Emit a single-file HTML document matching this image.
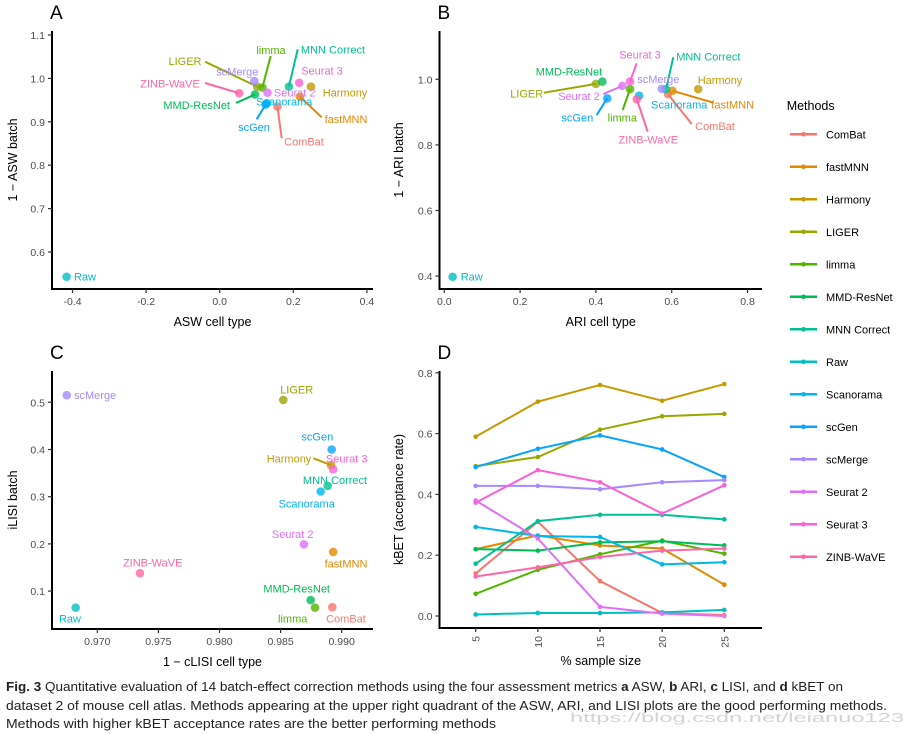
<!DOCTYPE html>
<html><head><meta charset="utf-8"><style>
html,body{margin:0;padding:0;background:#fff;}
svg{display:block;font-family:"Liberation Sans",sans-serif;}
</style></head><body>
<svg id="fig" width="907" height="734" viewBox="0 0 907 734" xmlns="http://www.w3.org/2000/svg"></svg>
<script>
const methods=["ComBat","fastMNN","Harmony","LIGER","limma","MMD-ResNet","MNN Correct","Raw","Scanorama","scGen","scMerge","Seurat 2","Seurat 3","ZINB-WaVE"];
const colors=["#F8766D","#E38900","#C49A00","#99A800","#53B400","#00BC56","#00C094","#00BFC4","#00B6EB","#06A4FF","#A58AFF","#DF70F8","#FB61D7","#FF66A8"];
// Panel A: ASW
const aswCell=[0.157,0.218,0.248,0.102,0.116,0.096,0.188,-0.416,0.128,0.125,0.094,0.130,0.216,0.053];
const aswBatch=[0.935,0.958,0.981,0.981,0.979,0.963,0.981,0.543,0.943,0.940,0.994,0.967,0.990,0.966];
const aTicksX=[-0.4,-0.2,0.0,0.2,0.4];
const aTickLabX=["-0.4","-0.2","0.0","0.2","0.4"];
const aTicksY=[0.6,0.7,0.8,0.9,1.0,1.1];
const aTickLabY=["0.6","0.7","0.8","0.9","1.0","1.1"];
// Panel B: ARI
const ariCell=[0.590,0.602,0.670,0.400,0.490,0.417,0.585,0.022,0.514,0.430,0.574,0.470,0.490,0.508];
const ariBatch=[0.955,0.965,0.970,0.986,0.970,0.993,0.970,0.398,0.950,0.942,0.971,0.980,0.993,0.939];
const bTicksX=[0.0,0.2,0.4,0.6,0.8];
const bTickLabX=["0.0","0.2","0.4","0.6","0.8"];
const bTicksY=[0.4,0.6,0.8,1.0];
const bTickLabY=["0.4","0.6","0.8","1.0"];
// Panel C: LISI
const lisiCell=[0.98923,0.9893,0.98913,0.98522,0.98782,0.98746,0.98885,0.96823,0.98828,0.98918,0.9675,0.98691,0.9893,0.97349];
const lisiBatch=[0.066,0.183,0.367,0.505,0.065,0.081,0.323,0.065,0.311,0.400,0.515,0.199,0.358,0.138];
const cTicksX=[0.970,0.975,0.980,0.985,0.990];
const cTickLabX=["0.970","0.975","0.980","0.985","0.990"];
const cTicksY=[0.1,0.2,0.3,0.4,0.5];
const cTickLabY=["0.1","0.2","0.3","0.4","0.5"];
// Panel D: kBET
const sampleSizes=[5,10,15,20,25];
const kbet=[
[0.14,0.31,0.115,0.01,0.003],
[0.22,0.265,0.232,0.222,0.103],
[0.59,0.705,0.76,0.708,0.763],
[0.493,0.523,0.613,0.657,0.665],
[0.073,0.152,0.203,0.248,0.205],
[0.22,0.215,0.242,0.246,0.232],
[0.172,0.312,0.333,0.333,0.318],
[0.005,0.01,0.01,0.012,0.02],
[0.293,0.263,0.26,0.17,0.177],
[0.49,0.55,0.594,0.548,0.457],
[0.428,0.428,0.417,0.44,0.447],
[0.38,0.255,0.03,0.008,0.0],
[0.373,0.48,0.44,0.337,0.43],
[0.13,0.16,0.194,0.215,0.222]];
const dTicksY=[0.0,0.2,0.4,0.6,0.8];
const dTickLabY=["0.0","0.2","0.4","0.6","0.8"];

const svg=document.getElementById('fig');
const NS="http://www.w3.org/2000/svg";
function mk(tag,attrs,parent){const e=document.createElementNS(NS,tag);for(const k in attrs)e.setAttribute(k,attrs[k]);(parent||svg).appendChild(e);return e;}
function txt(s,attrs,parent){const e=mk('text',attrs,parent);e.textContent=s;return e;}

function axes(g,p){
  // p: left,bottom,right,top,sx,sy,ticksX,labX,ticksY,labY,xtitle,ytitle,letter,rotX
  mk('line',{x1:p.left,y1:p.top,x2:p.left,y2:p.bottom+1,stroke:'#000','stroke-width':2},g);
  mk('line',{x1:p.left-1,y1:p.bottom,x2:p.right,y2:p.bottom,stroke:'#000','stroke-width':2},g);
  p.ticksX.forEach((v,i)=>{const x=p.sx(v);
    mk('line',{x1:x,y1:p.bottom,x2:x,y2:p.bottom+4,stroke:'#333','stroke-width':1.2},g);
    let t;
    if(p.rotX){t=txt(p.labX[i],{x:x+4,y:p.bottom+8,'font-size':10.5,fill:'#4d4d4d','text-anchor':'end',transform:`rotate(-90 ${x+4} ${p.bottom+8})`},g);}
    else t=txt(p.labX[i],{x:x,y:p.bottom+16,'font-size':10.5,fill:'#4d4d4d','text-anchor':'middle'},g);
    });
  p.ticksY.forEach((v,i)=>{const y=p.sy(v);
    mk('line',{x1:p.left-4,y1:y,x2:p.left,y2:y,stroke:'#333','stroke-width':1.2},g);
    const t=txt(p.labY[i],{x:p.left-7,y:y+4,'font-size':10.5,fill:'#4d4d4d','text-anchor':'end'},g);
    });
  const xt=txt(p.xtitle,{x:(p.left+p.right)/2,y:p.bottom+37,'font-size':12.5,fill:'#000','text-anchor':'middle'},g);
  
  const yc=(p.top+p.bottom)/2;
  const yt=txt(p.ytitle,{x:p.ytx,y:yc,'font-size':12.5,fill:'#000','text-anchor':'middle',transform:`rotate(-90 ${p.ytx} ${yc})`},g);
  
  const L=txt(p.letter,{x:p.left-2,y:p.top-12,'font-size':19,fill:'#000'},g);
  
}

function scatter(g,xs,ys,sx,sy,labels){
  methods.forEach((m,i)=>{
    const px=sx(xs[i]),py=sy(ys[i]);
    const lb=labels[m];
    if(lb&&lb.lx!==undefined){const l=mk('line',{x1:lb.lx,y1:lb.ly,x2:px,y2:py,stroke:colors[i],'stroke-width':2},g);
      }
    const c=mk('circle',{cx:px,cy:py,r:4.3,fill:colors[i],'fill-opacity':0.8},g);
    
    
  });
  methods.forEach((m,i)=>{
    const lb=labels[m];if(!lb)return;
    const t=txt(m,{x:lb.x,y:lb.y+4,'font-size':11,fill:colors[i],'text-anchor':lb.a||'middle'},g);
    
  });
}

// Panel A
const gA=mk('g',{});
const sxA=v=>219.7+v*368, syA=v=>35+(1.1-v)*434;
axes(gA,{left:52,bottom:289,right:373,top:31,sx:sxA,sy:syA,ticksX:aTicksX,labX:aTickLabX,ticksY:aTicksY,labY:aTickLabY,xtitle:'ASW cell type',ytitle:'1 − ASW batch',letter:'A',ytx:17});
scatter(gA,aswCell,aswBatch,sxA,syA,{
 "LIGER":{x:185,y:61,lx:205,ly:61.7},"limma":{x:271,y:50,lx:270.7,ly:56},"MNN Correct":{x:333,y:49.3,lx:297.7,ly:49.3},
 "scMerge":{x:237.3,y:71.7},"Seurat 3":{x:322,y:70.7},"ZINB-WaVE":{x:170,y:83.3,lx:205,ly:83},"Seurat 2":{x:294.7,y:92.7},
 "Harmony":{x:345,y:92.7},"MMD-ResNet":{x:196.7,y:105,lx:236,ly:103},"Scanorama":{x:284.3,y:101.7},"scGen":{x:254,y:127,lx:256.7,ly:119.3},
 "fastMNN":{x:346,y:119,lx:321.7,ly:117.3},"ComBat":{x:304,y:141.3,lx:281.7,ly:138.3},"Raw":{x:74,y:276.7,a:'start'}});

// Panel B
const gB=mk('g',{});
const sxB=v=>444.3+v*379, syB=v=>79.3+(1-v)*328;
axes(gB,{left:439.5,bottom:289,right:762,top:31,sx:sxB,sy:syB,ticksX:bTicksX,labX:bTickLabX,ticksY:bTicksY,labY:bTickLabY,xtitle:'ARI cell type',ytitle:'1 − ARI batch',letter:'B',ytx:403});
scatter(gB,ariCell,ariBatch,sxB,syB,{
 "Seurat 3":{x:640,y:54.3,lx:636.7,ly:63.3},"MNN Correct":{x:708.3,y:56.7,lx:673.3,ly:57.3},"MMD-ResNet":{x:569,y:71.7},
 "scMerge":{x:658.3,y:79},"Harmony":{x:720,y:80},"LIGER":{x:526.7,y:93.3,lx:544,ly:92.7},"Seurat 2":{x:579,y:96,lx:603.3,ly:94},
 "Scanorama":{x:679.3,y:104.3},"fastMNN":{x:732.7,y:104.3,lx:713.3,ly:102.7},"scGen":{x:577.3,y:117.7,lx:596.7,ly:115},
 "limma":{x:622.3,y:117.7,lx:622.7,ly:110},"ComBat":{x:715,y:126,lx:691.7,ly:124},"ZINB-WaVE":{x:648.3,y:139.3,lx:647.7,ly:131.7},
 "Raw":{x:460.7,y:276.7,a:'start'}});

// Panel C
const gC=mk('g',{});
const sxC=v=>97.3+(v-0.970)*12220, syC=v=>402.3+(0.5-v)*472;
axes(gC,{left:52,bottom:629,right:373,top:371,sx:sxC,sy:syC,ticksX:cTicksX,labX:cTickLabX,ticksY:cTicksY,labY:cTickLabY,xtitle:'1 − cLISI cell type',ytitle:'iLISI batch',letter:'C',ytx:17});
scatter(gC,lisiCell,lisiBatch,sxC,syC,{
 "scMerge":{x:74,y:395,a:'start'},"LIGER":{x:296.7,y:389.3},"scGen":{x:317.3,y:436.7},"Harmony":{x:289,y:458.3,lx:313.3,ly:458.3},
 "Seurat 3":{x:346.7,y:458.3},"MNN Correct":{x:335,y:480},"Scanorama":{x:306.7,y:503.3},"Seurat 2":{x:292.7,y:534},
 "fastMNN":{x:346,y:563.3},"ZINB-WaVE":{x:152.7,y:562.7},"MMD-ResNet":{x:296.7,y:588.3},"limma":{x:292.7,y:618.3},
 "ComBat":{x:346,y:618.3},"Raw":{x:70,y:618.3}});

// Panel D
const gD=mk('g',{});
const sxD=v=>475.7+(v-5)*12.43, syD=v=>616-v*304;
axes(gD,{left:439.5,bottom:628,right:762,top:371,sx:sxD,sy:syD,ticksX:sampleSizes,labX:sampleSizes.map(String),ticksY:dTicksY,labY:dTickLabY,xtitle:'% sample size',ytitle:'kBET (acceptance rate)',letter:'D',ytx:403,rotX:true});
methods.forEach((m,i)=>{
  const pts=sampleSizes.map((s,j)=>sxD(s)+','+syD(kbet[i][j])).join(' ');
  const pl=mk('polyline',{points:pts,fill:'none',stroke:colors[i],'stroke-width':2},gD);
  
  
  sampleSizes.forEach((s,j)=>{const c=mk('circle',{cx:sxD(s),cy:syD(kbet[i][j]),r:2.3,fill:colors[i]},gD);
    });
});

// Legend
const gL=mk('g',{});
const lt=txt('Methods',{x:786.7,y:110,'font-size':12.5,fill:'#000'},gL);

methods.forEach((m,i)=>{const y=134.3+i*32.5;
  const g=mk('g',{},gL);
  mk('line',{x1:790,y1:y,x2:817,y2:y,stroke:colors[i],'stroke-width':2.5},g);
  mk('circle',{cx:803.5,cy:y,r:2.3,fill:colors[i]},g);
  txt(m,{x:826,y:y+4,'font-size':11,fill:'#000'},g);
});

// Caption
const gc=mk('g',{});
const wm=txt('https://blog.csdn.net/leianuo123',{x:570,y:722,'font-size':13,fill:'#d4d4d4',textLength:334,lengthAdjust:'spacingAndGlyphs'},gc);

const c1=mk('text',{x:6,y:691,'font-size':13,fill:'#222',textLength:837,lengthAdjust:'spacingAndGlyphs'},gc);
c1.innerHTML='<tspan font-weight="bold">Fig. 3</tspan> Quantitative evaluation of 14 batch-effect correction methods using the four assessment metrics <tspan font-weight="bold">a</tspan> ASW, <tspan font-weight="bold">b</tspan> ARI, <tspan font-weight="bold">c</tspan> LISI, and <tspan font-weight="bold">d</tspan> kBET on';
txt('dataset 2 of mouse cell atlas. Methods appearing at the upper right quadrant of the ASW, ARI, and LISI plots are the good performing methods.',{x:6,y:710,'font-size':13,fill:'#222',textLength:881,lengthAdjust:'spacingAndGlyphs'},gc);
txt('Methods with higher kBET acceptance rates are the better performing methods',{x:6,y:728,'font-size':13,fill:'#222',textLength:490,lengthAdjust:'spacingAndGlyphs'},gc);
</script>
</body></html>
